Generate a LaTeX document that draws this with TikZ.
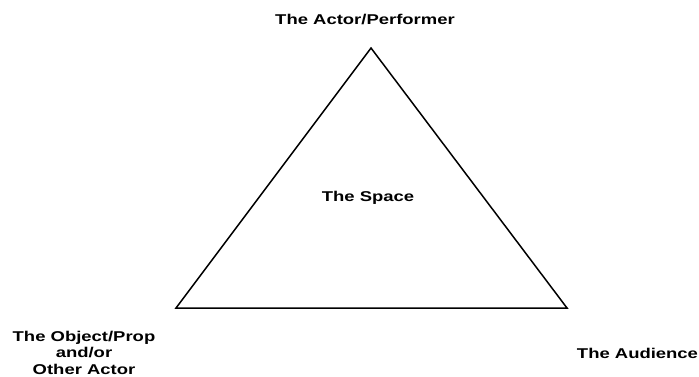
\documentclass[tikz,border=0pt]{standalone}
\usepackage{fontspec}
\newfontfamily\labelfont[FakeStretch=1.3]{Liberation Sans}
\usetikzlibrary{positioning}

\begin{document}
\begin{tikzpicture}[x=1pt,y=-1pt,
    corner label/.style={font=\labelfont\bfseries\fontsize{14.2}{16.5}\selectfont,
        anchor=base, inner sep=0pt, align=center}]
    \useasboundingbox (0,0) rectangle (699,377);

    % corners of the triangle
    \coordinate (actor) at (371,48);
    \coordinate (object) at (176,308);
    \coordinate (audience) at (567,308);

\draw [line width=1.5pt] (actor) -- (audience) -- (object) -- cycle;

\node [corner label] (actorlbl) at (365,25) {The Actor/Performer};
\node [corner label] (spacelbl) at (368,201.5) {The Space};
% base of a multi-line node sits on its last line
\node [corner label] (objectlbl) at (84,374) {The Object/Prop\\and/or\\Other Actor};
\node [corner label] (audiencelbl) at (637.5,358) {The Audience};
\end{tikzpicture}
\end{document}
